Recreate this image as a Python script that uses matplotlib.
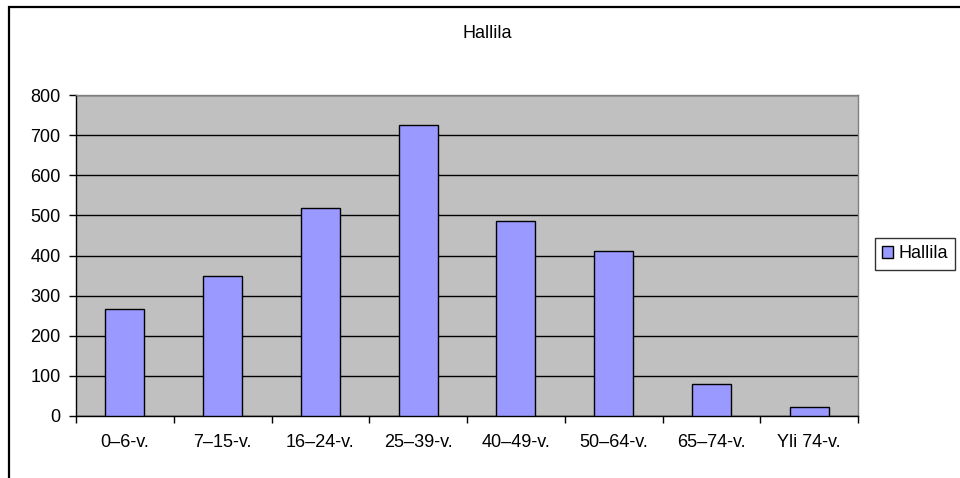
import matplotlib
matplotlib.use("Agg")
import matplotlib.pyplot as plt
from matplotlib.patches import Rectangle
import numpy as np

plt.rcParams['font.family'] = ['Liberation Sans', 'DejaVu Sans']

categories = ["0–6-v.", "7–15-v.", "16–24-v.", "25–39-v.", "40–49-v.", "50–64-v.", "65–74-v.", "Yli 74-v."]
values = [267, 349, 519, 724, 487, 411, 79, 23]
series_name = "Hallila"
yticks = [0, 100, 200, 300, 400, 500, 600, 700, 800]

W, H = 960, 478
FS = 13
fig = plt.figure(figsize=(W / 100, H / 100), dpi=100)

# outer chart frame (runs past the right and bottom edges)
fig.patches.append(Rectangle((8.5 / W, -0.1), 1, 1.1 - 6.5 / H, transform=fig.transFigure,
                             fill=False, edgecolor="black", linewidth=1.6))

left, right, top, bottom = 76, 858, 95, 416
ax = fig.add_axes([left / W, 1 - bottom / H, (right - left) / W, (bottom - top) / H])
ax.set_facecolor("#C0C0C0")

x = np.arange(len(categories))
ax.bar(x, values, width=0.4, color="#9999FF", edgecolor="black", linewidth=1.0,
       zorder=3, label=series_name)

ax.set_xlim(-0.5, len(categories) - 0.5)
ax.set_ylim(0, 800)
ax.set_yticks(yticks)
ax.set_yticklabels([str(v) for v in yticks], fontsize=FS)
ax.yaxis.grid(True, color="black", linewidth=1.0, zorder=1)
ax.set_axisbelow(True)

# category labels centred, tick marks between categories
ax.set_xticks(x)
ax.set_xticklabels(categories, fontsize=FS)
ax.tick_params(axis="x", length=0, pad=13)
ax.set_xticks(np.arange(-0.5, len(categories), 1), minor=True)
ax.tick_params(axis="x", which="minor", length=5, width=1, color="black", direction="out")
ax.tick_params(axis="y", length=5, width=1, color="black", direction="out", pad=6)

for side in ("top", "right"):
    ax.spines[side].set_color("#808080")
    ax.spines[side].set_linewidth(1.0)
for side in ("left", "bottom"):
    ax.spines[side].set_color("black")
    ax.spines[side].set_linewidth(1.0)

fig.text(487 / W, 1 - 33 / H, "Hallila", ha="center", va="center", fontsize=FS)

leg = fig.legend(loc="center left", bbox_to_anchor=(875 / W, 1 - 254 / H),
                 fontsize=FS, frameon=True, fancybox=False, edgecolor="black",
                 handlelength=0.6, handleheight=0.6, handletextpad=0.3,
                 borderpad=0.4, borderaxespad=0)
leg.get_frame().set_linewidth(1.0)

fig.savefig("out.png", dpi=100)
